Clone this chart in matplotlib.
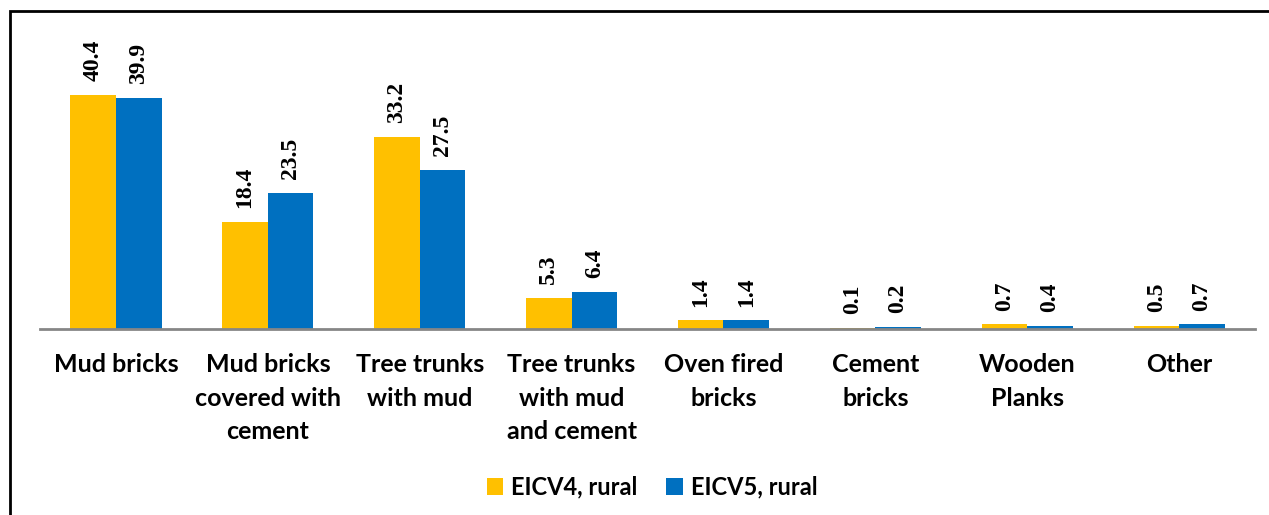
import matplotlib
matplotlib.use('Agg')
from matplotlib import pyplot as plt
from matplotlib.patches import Rectangle
import numpy as np

# data
categories = ['Mud bricks', 'Mud bricks\ncovered with\ncement', 'Tree trunks\nwith mud',
              'Tree trunks\nwith mud\nand cement', 'Oven fired\nbricks', 'Cement\nbricks',
              'Wooden\nPlanks', 'Other']
eicv4 = [40.4, 18.4, 33.2, 5.3, 1.4, 0.1, 0.7, 0.5]
eicv5 = [39.9, 23.5, 27.5, 6.4, 1.4, 0.2, 0.4, 0.7]

yellow = '#FFC000'
blue = '#0070C0'

fig = plt.figure(figsize=(12.69, 5.15), dpi=100)
ax = fig.add_axes([40/1269, 1 - 328.5/515, 1215/1269, (328.5 - 39.5)/515])

x = np.arange(len(categories))
w = 0.30
b1 = ax.bar(x - w/2, eicv4, w, color=yellow, label='EICV4, rural')
b2 = ax.bar(x + w/2, eicv5, w, color=blue, label='EICV5, rural')

for bars in (b1, b2):
    for b in bars:
        ax.annotate('%.1f' % b.get_height(), (b.get_x() + b.get_width()/2, b.get_height()),
                    xytext=(0, 10), textcoords='offset points', rotation=90,
                    ha='center', va='bottom', fontsize=17, fontweight='bold',
                    family='Liberation Serif')

ax.set_xlim(-0.5, len(categories) - 0.5)
ax.set_ylim(0, 50)
ax.set_yticks([])
ax.set_xticks(x)
ax.set_xticklabels(categories, fontsize=18, fontweight='bold', family='Lato', linespacing=1.53)
ax.tick_params(axis='x', length=0, pad=18)
for s in ['top', 'right', 'left']:
    ax.spines[s].set_visible(False)
ax.spines['bottom'].set_color('#868686')
ax.spines['bottom'].set_linewidth(2)

leg = fig.legend(loc='center', bbox_to_anchor=(652/1269, 1 - 487/515), ncol=2, frameon=False,
                 prop={'family': 'Lato', 'weight': 'bold', 'size': 17},
                 handlelength=0.7, handleheight=0.7, handletextpad=0.35, columnspacing=1.2)

# outer frame (only left and top edges visible in the crop)
fig.patches.append(Rectangle((10/1269, -0.1), 1.2, 1 - 11/515 + 0.1, transform=fig.transFigure,
                             fill=False, edgecolor='black', linewidth=2))

plt.savefig('out.png', dpi=100)
